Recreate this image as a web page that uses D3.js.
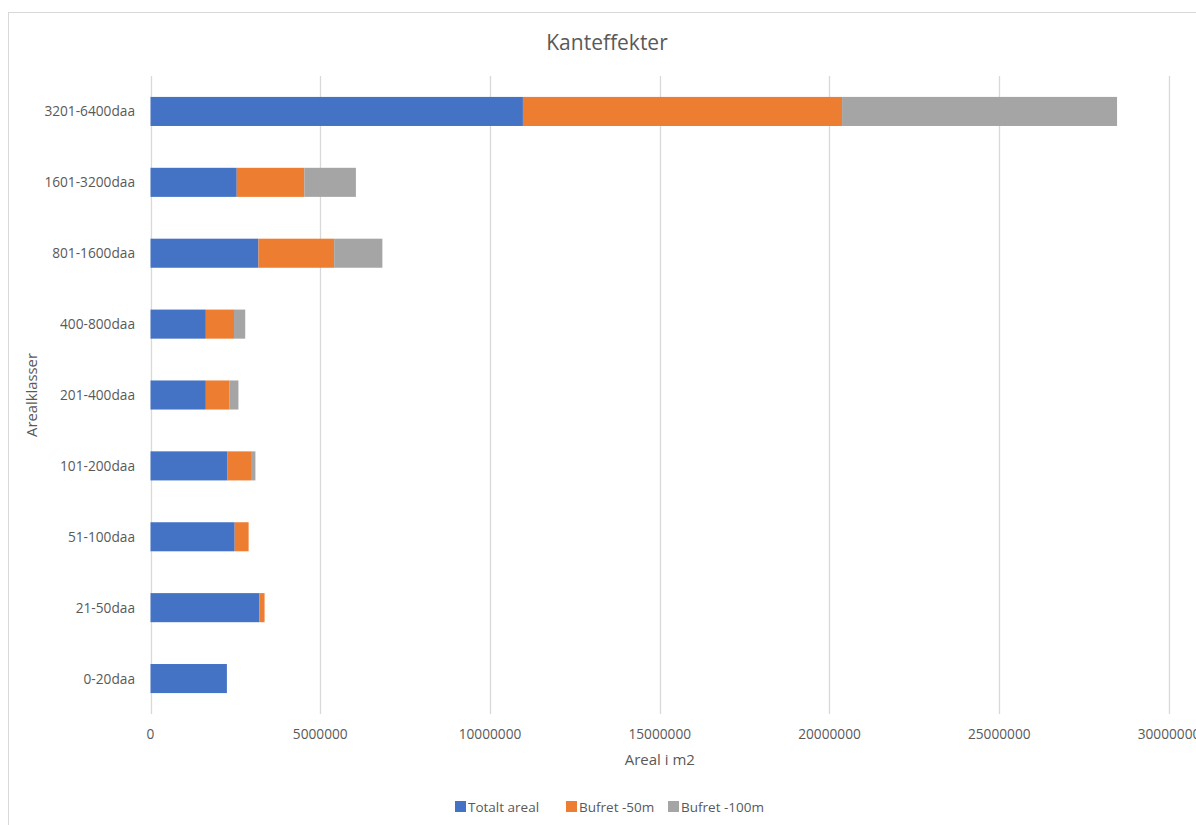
<!DOCTYPE html>
<html>
<head>
<meta charset="utf-8">
<script src="https://cdn.jsdelivr.net/npm/d3@7"></script>
<style>
  body { margin: 0; background: #fff; }
  text { font-family: "Open Sans", "Liberation Sans", sans-serif; fill: #595959; }
</style>
</head>
<body>
<svg id="chart" width="1196" height="825"></svg>
<script>
'use strict';

// categories, bottom to top as in the source sheet
var categories = ['0-20daa', '21-50daa', '51-100daa', '101-200daa', '201-400daa',
    '400-800daa', '801-1600daa', '1601-3200daa', '3201-6400daa'];

var seriesNames = ['Totalt areal', 'Bufret -50m', 'Bufret -100m'];

var totaltAreal = [2250000, 3210000, 2480000, 2270000, 1630000, 1630000, 3180000, 2540000, 10970000];
var bufret50 = [0, 150000, 410000, 690000, 700000, 830000, 2230000, 1990000, 9400000];
var bufret100 = [0, 0, 0, 130000, 260000, 330000, 1420000, 1520000, 8100000];

var xTicks = [0, 5000000, 10000000, 15000000, 20000000, 25000000, 30000000];

var colors = ['#4472C4', '#ED7D31', '#A5A5A5'];

function draw () {
    var svg = d3.select('#chart');

    // chart area frame (runs past the right/bottom edge of the picture)
    svg.append('rect')
        .attr('x', 8.5)
        .attr('y', 12.5)
        .attr('width', 1210)
        .attr('height', 830)
        .attr('fill', 'none')
        .attr('stroke', '#d9d9d9')
        .attr('stroke-width', 1);

    var margin = { left: 150.5, right: 1169, top: 76, bottom: 714 };

    var x = d3.scaleLinear()
        .domain([0, 30000000])
        .range([margin.left, margin.right]);

    var y = d3.scaleBand()
        .domain(categories.slice().reverse())
        .range([margin.top, margin.bottom])
        .paddingInner(0.59)
        .paddingOuter(0.295);

    // gridlines
    svg.append('g')
        .selectAll('line')
        .data(xTicks)
        .enter().append('line')
        .attr('x1', function (d) { return Math.round(x(d)) + 0.5; })
        .attr('x2', function (d) { return Math.round(x(d)) + 0.5; })
        .attr('y1', margin.top)
        .attr('y2', margin.bottom)
        .attr('stroke', '#d9d9d9')
        .attr('stroke-width', 1.3);

    // stacked bars
    var rows = categories.map(function (c, i) {
        return { cat: c, 'Totalt areal': totaltAreal[i], 'Bufret -50m': bufret50[i], 'Bufret -100m': bufret100[i] };
    });
    var stacked = d3.stack().keys(seriesNames)(rows);

    svg.append('g')
        .selectAll('g')
        .data(stacked)
        .enter().append('g')
        .attr('fill', function (d, i) { return colors[i]; })
        .selectAll('rect')
        .data(function (d) { return d; })
        .enter().append('rect')
        .attr('x', function (d) { return x(d[0]); })
        .attr('y', function (d) { return y(d.data.cat); })
        .attr('width', function (d) { return x(d[1]) - x(d[0]); })
        .attr('height', y.bandwidth());

    // x tick labels (last one is clipped by the picture edge, as in the source)
    svg.append('g')
        .selectAll('text')
        .data(xTicks)
        .enter().append('text')
        .attr('x', function (d) { return x(d); })
        .attr('y', 739)
        .attr('text-anchor', 'middle')
        .style('font-size', '13.7px')
        .text(function (d) { return d; });

    // y tick labels
    svg.append('g')
        .selectAll('text')
        .data(categories)
        .enter().append('text')
        .attr('x', 135)
        .attr('y', function (d) { return y(d) + y.bandwidth() / 2 + 5; })
        .attr('text-anchor', 'end')
        .style('font-size', '13.7px')
        .text(function (d) { return d; });

    // title + axis titles
    svg.append('text')
        .attr('x', 607)
        .attr('y', 50)
        .attr('text-anchor', 'middle')
        .style('font-size', '21px')
        .text('Kanteffekter');

    svg.append('text')
        .attr('x', (margin.left + margin.right) / 2)
        .attr('y', 765)
        .attr('text-anchor', 'middle')
        .style('font-size', '15px')
        .text('Areal i m2');

    svg.append('text')
        .attr('transform', 'translate(37,' + ((margin.top + margin.bottom) / 2) + ') rotate(-90)')
        .attr('text-anchor', 'middle')
        .style('font-size', '14.8px')
        .text('Arealklasser');

    // legend
    var legendX = [455, 566, 668];
    var legend = svg.append('g')
        .selectAll('g')
        .data(seriesNames)
        .enter().append('g')
        .attr('transform', function (d, i) { return 'translate(' + legendX[i] + ',801)'; });

    legend.append('rect')
        .attr('width', 11)
        .attr('height', 11)
        .attr('fill', function (d, i) { return colors[i]; });

    legend.append('text')
        .attr('x', 13)
        .attr('y', 10.5)
        .style('font-size', '13.5px')
        .text(function (d) { return d; });
}

draw();
</script>
</body>
</html>
